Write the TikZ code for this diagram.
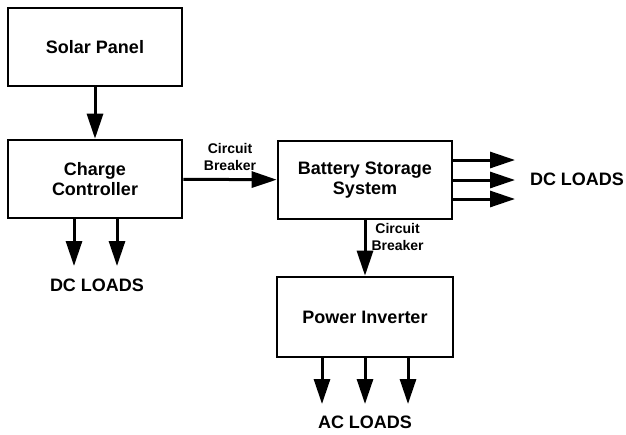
\documentclass[tikz,border=0pt]{standalone}
\usepackage{fontspec}
\setmainfont{Liberation Sans}
\usetikzlibrary{arrows.meta,positioning}

\begin{document}
\begin{tikzpicture}[x=1pt,y=-1pt,
    font=\fontsize{18}{20}\selectfont\bfseries,
    blk/.style={draw=black,fill=white,line width=2.6pt,align=center,
                minimum width=174pt,minimum height=78pt,inner sep=2pt},
    arr/.style={-{Triangle[length=25pt,width=16pt]},line width=3pt},
    lbl/.style={font=\fontsize{14}{17}\selectfont\bfseries,align=center,inner sep=2pt},
    load/.style={inner sep=1pt}]

  \useasboundingbox (0,0) rectangle (626,434);

  \node[blk] (sp)  at (95,47)   {Solar Panel};
  \node[blk] (cc)  at (95,179)  {Charge\\Controller};
  \node[blk] (bss) at (365,180) {Battery Storage\\System};
  \node[blk,minimum width=176pt,minimum height=80pt] (pi) at (365,317) {Power Inverter};

  \node[load] (dcl)  at (97,285)  {DC LOADS};
  \node[load] (dcr)  at (577,179) {DC LOADS};
  \node[load] (acl)  at (365,422) {AC LOADS};

  % ends of the load arrows
  \coordinate (dc1) at (74,266);
  \coordinate (dc2) at (117,266);
  \coordinate (r1) at (515,160);
  \coordinate (r2) at (515,180);
  \coordinate (r3) at (515,199);
  \coordinate (ac1) at (322,404);
  \coordinate (ac2) at (365,404);
  \coordinate (ac3) at (408,404);

  \draw[arr] (sp) -- (cc);
  \draw[arr] (cc) -- node[lbl,above=5pt] {Circuit\\Breaker} (bss);
  \draw[arr] (bss) -- node[lbl,right=3pt,pos=0.3] {Circuit\\Breaker} (pi);

  \draw[arr] (cc.south -| dc1) -- (dc1);
  \draw[arr] (cc.south -| dc2) -- (dc2);

  \draw[arr] (bss.east |- r1) -- (r1);
  \draw[arr] (bss.east |- r2) -- (r2);
  \draw[arr] (bss.east |- r3) -- (r3);

  \draw[arr] (pi.south -| ac1) -- (ac1);
  \draw[arr] (pi.south -| ac2) -- (ac2);
  \draw[arr] (pi.south -| ac3) -- (ac3);
\end{tikzpicture}
\end{document}
